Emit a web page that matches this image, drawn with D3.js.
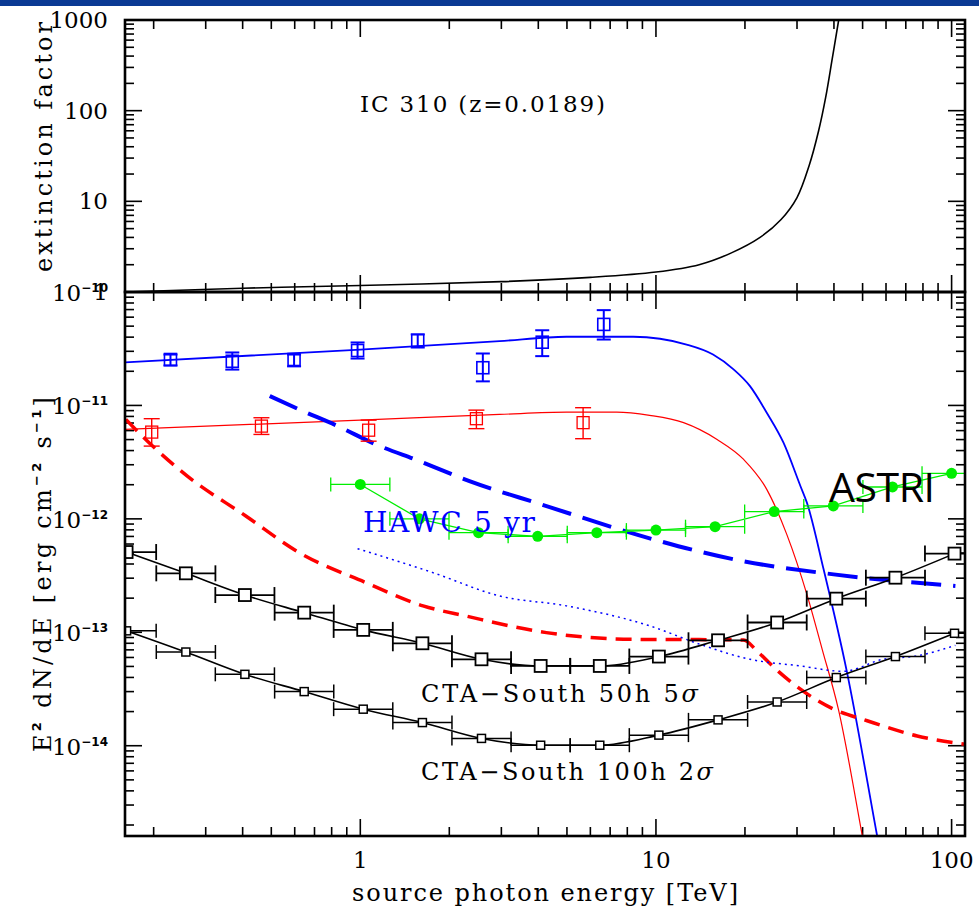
<!DOCTYPE html>
<html>
<head>
<meta charset="utf-8">
<script src="https://cdn.jsdelivr.net/npm/d3@7"></script>
<style>
  body { margin: 0; background: #fff; }
  svg text { font-family: "DejaVu Serif", serif; fill: #000; }
</style>
</head>
<body>
<div id="chart"></div>
<script>
// ---- data ----
// top panel: extinction factor vs energy [TeV]
const extE = [0.16, 0.4, 1, 3, 6, 10, 14, 18, 22.5, 26.5, 30, 33, 35.5, 37.5, 39.5, 41.5, 43];
const extF = [1.0, 1.1, 1.18, 1.30, 1.45, 1.66, 2.0, 2.7, 4.0, 6.3, 11, 25, 60, 140, 380, 1000, 2000];

// blue measured points (E, flux, error low/high)
const blueE  = [0.228, 0.369, 0.597, 0.979, 1.564, 2.597, 4.124, 6.66];
const blueF  = [2.54e-11, 2.45e-11, 2.54e-11, 3.05e-11, 3.74e-11, 2.15e-11, 3.61e-11, 5.18e-11];
const blueLo = [2.25e-11, 2.07e-11, 2.21e-11, 2.59e-11, 3.24e-11, 1.63e-11, 2.72e-11, 3.81e-11];
const blueHi = [2.81e-11, 2.93e-11, 2.81e-11, 3.59e-11, 4.23e-11, 2.87e-11, 4.60e-11, 6.92e-11];

// red measured points
const redE  = [0.197, 0.463, 1.067, 2.47, 5.67];
const redF  = [5.82e-12, 6.57e-12, 6.05e-12, 7.64e-12, 7.05e-12];
const redLo = [4.38e-12, 5.55e-12, 4.84e-12, 6.24e-12, 5.09e-12];
const redHi = [7.64e-12, 7.79e-12, 7.42e-12, 9.09e-12, 9.55e-12];

// absorbed model spectra
const blueModelE = [0.158, 1.0, 2.96, 4.98, 8.38, 12.7, 15.6, 18.3, 20.8, 23.7, 27.0, 30.8, 32.4, 36.9, 44.3, 56.0, 60];
const blueModelF = [2.39e-11, 3.11e-11, 3.69e-11, 4.03e-11, 4.03e-11, 3.44e-11, 2.81e-11, 2.08e-11, 1.48e-11, 8.63e-12, 4.69e-12, 1.95e-12, 1.39e-12, 3.59e-13, 4.41e-14, 1.6e-15, 6e-16];
const redModelE = [0.158, 1.0, 2.96, 4.98, 7.37, 9.52, 12.4, 16.1, 19.8, 23.7, 27.7, 32.4, 36.5, 41.4, 49.9, 55];
const redModelF = [6.15e-12, 7.42e-12, 8.33e-12, 8.73e-12, 8.73e-12, 8.17e-12, 7.05e-12, 5.01e-12, 3.34e-12, 1.82e-12, 7.3e-13, 2.16e-13, 7.08e-14, 2.1e-14, 1.6e-15, 4e-16];

// red dashed sensitivity
const redDashE = [0.161, 0.193, 0.260, 0.410, 0.621, 1.045, 1.63, 2.28, 4.26, 8.38, 14, 19.8, 22, 26, 30.8, 39.9, 51.8, 76.5, 111];
const redDashF = [7.53e-12, 4.69e-12, 2.38e-12, 1.06e-12, 5.04e-13, 2.74e-13, 1.71e-13, 1.39e-13, 9.93e-14, 8.67e-14, 8.62e-14, 8.55e-14, 6.8e-14, 4.5e-14, 3.15e-14, 2.1e-14, 1.66e-14, 1.22e-14, 1.03e-14];

// HAWC 5 yr (long dashes)
const hawcE = [0.494, 0.621, 0.838, 1.13, 1.585, 2.34, 4.10, 9.79, 18.3, 39.9, 103];
const hawcF = [1.21e-11, 9.22e-12, 6.58e-12, 4.53e-12, 3.23e-12, 2.15e-12, 1.34e-12, 6.6e-13, 4.4e-13, 3.24e-13, 2.56e-13];

// blue dotted
const dotE = [0.979, 1.758, 2.96, 4.98, 9.52, 14.1, 20.8, 30.8, 43.1, 58.6, 76.0, 103];
const dotF = [5.46e-13, 3.36e-13, 2.09e-13, 1.71e-13, 1.14e-13, 7.83e-14, 5.78e-14, 5.05e-14, 4.53e-14, 5.78e-14, 6.18e-14, 7.67e-14];

// ASTRI
const astriE = [1.0, 1.585, 2.512, 3.981, 6.310, 10.0, 15.85, 25.12, 39.81, 63.10, 100];
const astriF = [2.01e-12, 1.00e-12, 7.56e-13, 7.01e-13, 7.56e-13, 7.96e-13, 8.53e-13, 1.16e-12, 1.30e-12, 1.91e-12, 2.52e-12];

// CTA-South
const ctaE   = [0.162, 0.257, 0.407, 0.646, 1.023, 1.622, 2.570, 4.074, 6.457, 10.23, 16.22, 25.70, 40.74, 64.57, 102.3];
const cta50  = [5.10e-13, 3.31e-13, 2.13e-13, 1.49e-13, 1.05e-13, 8.0e-14, 5.78e-14, 5.05e-14, 5.05e-14, 6.11e-14, 8.5e-14, 1.22e-13, 1.98e-13, 3.03e-13, 4.94e-13];
const cta100 = [1.03e-13, 6.70e-14, 4.26e-14, 3.0e-14, 2.10e-14, 1.60e-14, 1.16e-14, 1.01e-14, 1.01e-14, 1.24e-14, 1.69e-14, 2.43e-14, 3.99e-14, 6.11e-14, 9.8e-14];
const binHalfDex = 0.1;

// ---- layout ----
const W = 979, H = 910;
const left = 125, right = 965;
const top1 = 20, mid = 292, bottom = 836;

const svg = d3.select("#chart").append("svg")
    .attr("width", W)
    .attr("height", H);

// header stripe
svg.append("rect").attr("x", 0).attr("y", 0).attr("width", W).attr("height", 6).attr("fill", "#0b3a94");

const x = d3.scaleLog().domain([0.16, 111]).range([left, right]);
const yTop = d3.scaleLog().domain([1, 1000]).range([mid, top1]);
const yBot = d3.scaleLog().domain([1.6e-15, 1e-10]).range([bottom, mid]);

const isMajor = v => Math.abs(Math.log10(v) - Math.round(Math.log10(v))) < 1e-6;

// clip paths
const defs = svg.append("defs");
defs.append("clipPath").attr("id", "clipTop").append("rect")
    .attr("x", left).attr("y", top1).attr("width", right - left).attr("height", mid - top1);
defs.append("clipPath").attr("id", "clipBot").append("rect")
    .attr("x", left).attr("y", mid).attr("width", right - left).attr("height", bottom - mid);

// ticks for a panel
function panelTicks(y, yA, yB) {
    const g = svg.append("g").attr("stroke", "#000").attr("stroke-width", 1.6);
    x.ticks().forEach(v => {
        const L = isMajor(v) ? 17 : 9;
        const px = x(v);
        g.append("line").attr("x1", px).attr("x2", px).attr("y1", yB).attr("y2", yB - L);
        g.append("line").attr("x1", px).attr("x2", px).attr("y1", yA).attr("y2", yA + L);
    });
    y.ticks().forEach(v => {
        const L = isMajor(v) ? 17 : 9;
        const py = y(v);
        g.append("line").attr("x1", left).attr("x2", left + L).attr("y1", py).attr("y2", py);
        g.append("line").attr("x1", right).attr("x2", right - L).attr("y1", py).attr("y2", py);
    });
}
panelTicks(yTop, top1, mid);
panelTicks(yBot, mid, bottom);

// ---- top panel ----
const gTop = svg.append("g").attr("clip-path", "url(#clipTop)");
gTop.append("path")
    .datum(extE.map((e, i) => [x(e), yTop(extF[i])]))
    .attr("fill", "none").attr("stroke", "#000").attr("stroke-width", 1.6)
    .attr("d", d3.line().curve(d3.curveCatmullRom));

// ---- bottom panel ----
const gBot = svg.append("g").attr("clip-path", "url(#clipBot)");
const smooth = d3.line().curve(d3.curveMonotoneX);
const straight = d3.line();
const pts = (es, fs) => es.map((e, i) => [x(e), yBot(fs[i])]);

function curve(es, fs, color, width, dash, gen) {
    gBot.append("path")
        .datum(pts(es, fs))
        .attr("fill", "none").attr("stroke", color).attr("stroke-width", width)
        .attr("stroke-dasharray", dash)
        .attr("d", gen || smooth);
}

curve(blueModelE, blueModelF, "#0000ff", 1.8, null);
curve(redModelE, redModelF, "#ff0000", 1.2, null);
curve(redDashE, redDashF, "#ff0000", 3.5, "16,9");
curve(hawcE, hawcF, "#0000ff", 4, "30,12");
curve(dotE, dotF, "#0000ff", 1.5, "2,4");
curve(ctaE, cta50, "#000", 1.6, null);
curve(ctaE, cta100, "#000", 1.6, null);
curve(astriE, astriF, "#00ee00", 1.3, null, straight);

// horizontal error bars (energy bins)
function hbars(es, fs, color, cap, width) {
    const g = gBot.append("g").attr("stroke", color).attr("stroke-width", width);
    es.forEach((e, i) => {
        const x0 = x(e / Math.pow(10, binHalfDex)), x1 = x(e * Math.pow(10, binHalfDex)), py = yBot(fs[i]);
        g.append("line").attr("x1", x0).attr("x2", x1).attr("y1", py).attr("y2", py);
        g.append("line").attr("x1", x0).attr("x2", x0).attr("y1", py - cap).attr("y2", py + cap);
        g.append("line").attr("x1", x1).attr("x2", x1).attr("y1", py - cap).attr("y2", py + cap);
    });
}
// vertical error bars (flux)
function vbars(es, lo, hi, color, cap, width) {
    const g = gBot.append("g").attr("stroke", color).attr("stroke-width", width);
    es.forEach((e, i) => {
        const px = x(e), y0 = yBot(lo[i]), y1 = yBot(hi[i]);
        g.append("line").attr("x1", px).attr("x2", px).attr("y1", y0).attr("y2", y1);
        g.append("line").attr("x1", px - cap).attr("x2", px + cap).attr("y1", y0).attr("y2", y0);
        g.append("line").attr("x1", px - cap).attr("x2", px + cap).attr("y1", y1).attr("y2", y1);
    });
}
function squares(es, fs, color, size, width, fill) {
    gBot.append("g").selectAll("rect")
        .data(es)
        .join("rect")
        .attr("x", (d) => x(d) - size / 2)
        .attr("y", (d, i) => yBot(fs[i]) - size / 2)
        .attr("width", size).attr("height", size)
        .attr("fill", fill).attr("stroke", color).attr("stroke-width", width);
}

hbars(ctaE, cta50, "#000", 8, 1.8);
hbars(ctaE, cta100, "#000", 7, 1.5);
squares(ctaE, cta50, "#000", 12, 1.8, "#fff");
squares(ctaE, cta100, "#000", 8, 1.5, "#fff");

hbars(astriE, astriF, "#00ee00", 7, 1.3);
gBot.append("g").selectAll("circle")
    .data(astriE)
    .join("circle")
    .attr("cx", (d) => x(d))
    .attr("cy", (d, i) => yBot(astriF[i]))
    .attr("r", 5.5)
    .attr("fill", "#00ee00");

vbars(blueE, blueLo, blueHi, "#0000ff", 7, 2);
squares(blueE, blueF, "#0000ff", 12, 1.6, "none");
vbars(redE, redLo, redHi, "#ff0000", 8, 1.4);
squares(redE, redF, "#ff0000", 12, 1.3, "none");

// frames
[[top1, mid], [mid, bottom]].forEach(([a, b]) => {
    svg.append("rect").attr("x", left).attr("y", a).attr("width", right - left).attr("height", b - a)
        .attr("fill", "none").attr("stroke", "#000").attr("stroke-width", 2.6);
});

// ---- tick labels ----
const lab = svg.append("g").style("font-size", "23px");
yTop.ticks().filter(isMajor).forEach(v => {
    lab.append("text").attr("x", 108).attr("y", yTop(v) + 8)
        .attr("text-anchor", "end").text(d3.format("d")(v));
});
yBot.ticks().filter(isMajor).forEach(v => {
    const t = lab.append("text").attr("x", 108).attr("y", yBot(v) + 9).attr("text-anchor", "end");
    t.append("tspan").text("10");
    t.append("tspan").attr("dy", -9).style("font-family", "DejaVu Sans").style("font-weight", "bold")
        .style("font-size", "12px").text("\u2212" + Math.round(-Math.log10(v)));
});
x.ticks().filter(isMajor).forEach(v => {
    lab.append("text").attr("x", x(v)).attr("y", 868).attr("text-anchor", "middle").text(d3.format("d")(v));
});

// ---- axis titles ----
svg.append("text").attr("x", 352).attr("y", 901).style("font-size", "24px")
    .attr("textLength", 386).attr("lengthAdjust", "spacing")
    .text("source photon energy [TeV]");

svg.append("text").attr("transform", "translate(52,272) rotate(-90)").style("font-size", "24px")
    .attr("textLength", 250).attr("lengthAdjust", "spacing")
    .text("extinction factor");

const yt = svg.append("text").attr("transform", "translate(51,752) rotate(-90)").style("font-size", "24px")
    .attr("textLength", 355).attr("lengthAdjust", "spacing");
yt.append("tspan").text("E");
yt.append("tspan").attr("dy", -10).style("font-family", "DejaVu Sans").style("font-weight", "bold").style("font-size", "13px").text("2");
yt.append("tspan").attr("dy", 10).text(" dN/dE  [erg cm");
yt.append("tspan").attr("dy", -10).style("font-family", "DejaVu Sans").style("font-weight", "bold").style("font-size", "13px").text("\u22122");
yt.append("tspan").attr("dy", 10).text(" s");
yt.append("tspan").attr("dy", -10).style("font-family", "DejaVu Sans").style("font-weight", "bold").style("font-size", "13px").text("\u22121");
yt.append("tspan").attr("dy", 10).text("]");

// ---- annotations ----
svg.append("text").attr("x", 360).attr("y", 112).style("font-size", "23px")
    .attr("textLength", 245).attr("lengthAdjust", "spacing")
    .text("IC 310 (z=0.0189)");

svg.append("text").attr("x", 363).attr("y", 532).style("font-size", "28px").style("fill", "#0000ff")
    .attr("textLength", 172).attr("lengthAdjust", "spacing")
    .text("HAWC 5 yr");

svg.append("text").attr("x", 829).attr("y", 502).style("font-family", "'Open Sans', sans-serif").style("font-size", "41px")
    .attr("textLength", 106).attr("lengthAdjust", "spacing")
    .text("ASTRI");

const c1 = svg.append("text").attr("x", 421).attr("y", 702).style("font-size", "24px")
    .attr("textLength", 277).attr("lengthAdjust", "spacing");
c1.append("tspan").text("CTA\u2212South 50h 5");
c1.append("tspan").style("font-style", "italic").text("\u03c3");

const c2 = svg.append("text").attr("x", 421).attr("y", 780).style("font-size", "24px")
    .attr("textLength", 292).attr("lengthAdjust", "spacing");
c2.append("tspan").text("CTA\u2212South 100h 2");
c2.append("tspan").style("font-style", "italic").text("\u03c3");
</script>
</body>
</html>
